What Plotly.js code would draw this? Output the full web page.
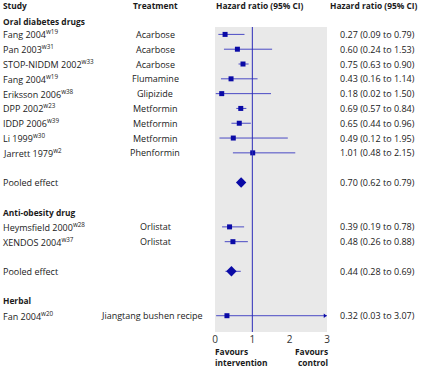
<!DOCTYPE html>
<html><head><meta charset="utf-8">
<script src="https://cdn.plot.ly/plotly-3.0.1.min.js"></script>
<style>html,body{margin:0;padding:0;background:#fff}</style>
</head><body><div id="chart" style="width:421px;height:368px"></div>
<script>
// ---- data ----
const groupNames = ["Oral diabetes drugs", "Anti-obesity drug", "Herbal"];
const studies = ["Fang 2004", "Pan 2003", "STOP-NIDDM 2002", "Fang 2004", "Eriksson 2006", "DPP 2002", "IDDP 2006", "Li 1999", "Jarrett 1979", "Heymsfield 2000", "XENDOS 2004", "Fan 2004"];
const refs = ["w19", "w31", "w33", "w19", "w38", "w23", "w39", "w30", "w2", "w28", "w37", "w20"];
const treatments = ["Acarbose", "Acarbose", "Acarbose", "Flumamine", "Glipizide", "Metformin", "Metformin", "Metformin", "Phenformin", "Orlistat", "Orlistat", "Jiangtang bushen recipe"];
const studyGroup = [0, 0, 0, 0, 0, 0, 0, 0, 0, 1, 1, 2];
const hr = [0.27, 0.60, 0.75, 0.43, 0.18, 0.69, 0.65, 0.49, 1.01, 0.39, 0.48, 0.32];
const lo = [0.09, 0.24, 0.63, 0.16, 0.02, 0.57, 0.44, 0.12, 0.48, 0.19, 0.26, 0.03];
const hi = [0.79, 1.53, 0.90, 1.14, 1.50, 0.84, 0.96, 1.95, 2.15, 0.78, 0.88, 3.07];
const pooledGroups = [0, 1];
const pooledHR = [0.70, 0.44];
const pooledLo = [0.62, 0.28];
const pooledHi = [0.79, 0.69];
const xTicks = [0, 1, 2, 3];

// ---- layout of rows ----
const L = 215, R = 327, T = 27, B = 332, W = 421, H = 368;
const xMax = 3;
const rowTop = 1.5, rowBot = 22.1;
const px2x = p => (p - L) / (R - L);
const py2y = p => (B - p) / (B - T);
const row2y = r => (rowBot - r) / (rowBot - rowTop);

let r = 1;
const headerRow = [], studyRow = [], pooledRow = [];
for (let g = 0; g < groupNames.length; g++) {
  headerRow[g] = r; r++;
  studies.forEach((s, i) => { if (studyGroup[i] === g) { studyRow[i] = r; r++; } });
  const pi = pooledGroups.indexOf(g);
  if (pi >= 0) { r++; pooledRow[pi] = r; r++; }
  r++;
}

const fmt = (a, b, c) => a.toFixed(2) + " (" + b.toFixed(2) + " to " + c.toFixed(2) + ")";
const txt = "#1a1a1a";
const F = "Open Sans";
const ann = [];
function add(text, xp, yp, anchor, bold, size) {
  ann.push({text: bold ? "<b>" + text + "</b>" : text, xref: "paper", yref: "paper",
    x: xp, y: yp, xanchor: anchor, yanchor: "middle", showarrow: false, align: anchor,
    font: {family: F, size: size || (bold ? 8.4 : 9), color: txt, weight: bold ? 800 : 400}});
}
add("Study", px2x(1), py2y(6), "left", true);
add("Treatment", px2x(155), py2y(6), "center", true);
add("Hazard ratio (95% CI)", px2x(214), py2y(6), "left", true);
add("Hazard ratio (95% CI)", px2x(420), py2y(6), "right", true);
groupNames.forEach((g, k) => add(g, px2x(1), k === 0 ? py2y(21.7) : row2y(headerRow[k]), "left", true));
studies.forEach((s, i) => {
  const y = row2y(studyRow[i]);
  add(s + "<sup>" + refs[i] + "</sup>", px2x(1), y, "left", false);
  const long = treatments[i].length > 12;
  add(treatments[i], long ? px2x(205) : px2x(155), y, long ? "right" : "center", false);
  add(fmt(hr[i], lo[i], hi[i]), px2x(338), y, "left", false);
});
pooledHR.forEach((v, k) => {
  const y = row2y(pooledRow[k]);
  add("Pooled effect", px2x(1), y, "left", false);
  add(fmt(v, pooledLo[k], pooledHi[k]), px2x(338), y, "left", false);
});
add("Favours<br>intervention", px2x(213), py2y(357), "left", true);
add("Favours<br>control", px2x(330), py2y(357), "right", true);

const lineCol = "#4a4ac4", markCol = "#0a0aa6";
const ciX = [], ciY = [];
studies.forEach((s, i) => { ciX.push(lo[i], Math.min(hi[i], xMax), null); ciY.push(studyRow[i], studyRow[i], null); });
pooledHR.forEach((v, k) => { ciX.push(pooledLo[k], pooledHi[k], null); ciY.push(pooledRow[k], pooledRow[k], null); });
const arrX = [], arrY = [];
studies.forEach((s, i) => { if (hi[i] > xMax) { arrX.push(xMax - 0.06); arrY.push(studyRow[i]); } });

const traces = [
  {x: ciX, y: ciY, mode: "lines", line: {color: lineCol, width: 1}, hoverinfo: "skip"},
  {x: hr, y: studyRow, mode: "markers", marker: {symbol: "square", size: 5, color: markCol}},
  {x: pooledHR, y: pooledRow, mode: "markers", marker: {symbol: "diamond", size: 8, color: markCol}},
  {x: arrX, y: arrY, mode: "markers", cliponaxis: false, marker: {symbol: "triangle-right", size: 4, color: markCol}}
];

const layout = {
  width: W, height: H, margin: {l: L, r: W - R, t: T, b: H - B, pad: 0},
  paper_bgcolor: "#fff", plot_bgcolor: "#e9e9e9", showlegend: false,
  font: {family: F, size: 9, color: txt},
  xaxis: {range: [0, xMax], tickvals: xTicks, ticktext: xTicks.map(String), showgrid: false, zeroline: false,
    showline: false, ticks: "", tickfont: {family: F, size: 10, color: "#333"}, fixedrange: true},
  yaxis: {range: [rowBot, rowTop], visible: false, fixedrange: true},
  shapes: [{type: "line", xref: "x", yref: "paper", x0: 1, x1: 1, y0: 0, y1: 1, line: {color: "#2c2cb8", width: 1}}],
  annotations: ann
};
Plotly.newPlot("chart", traces, layout, {displayModeBar: false, staticPlot: true});
</script></body></html>
